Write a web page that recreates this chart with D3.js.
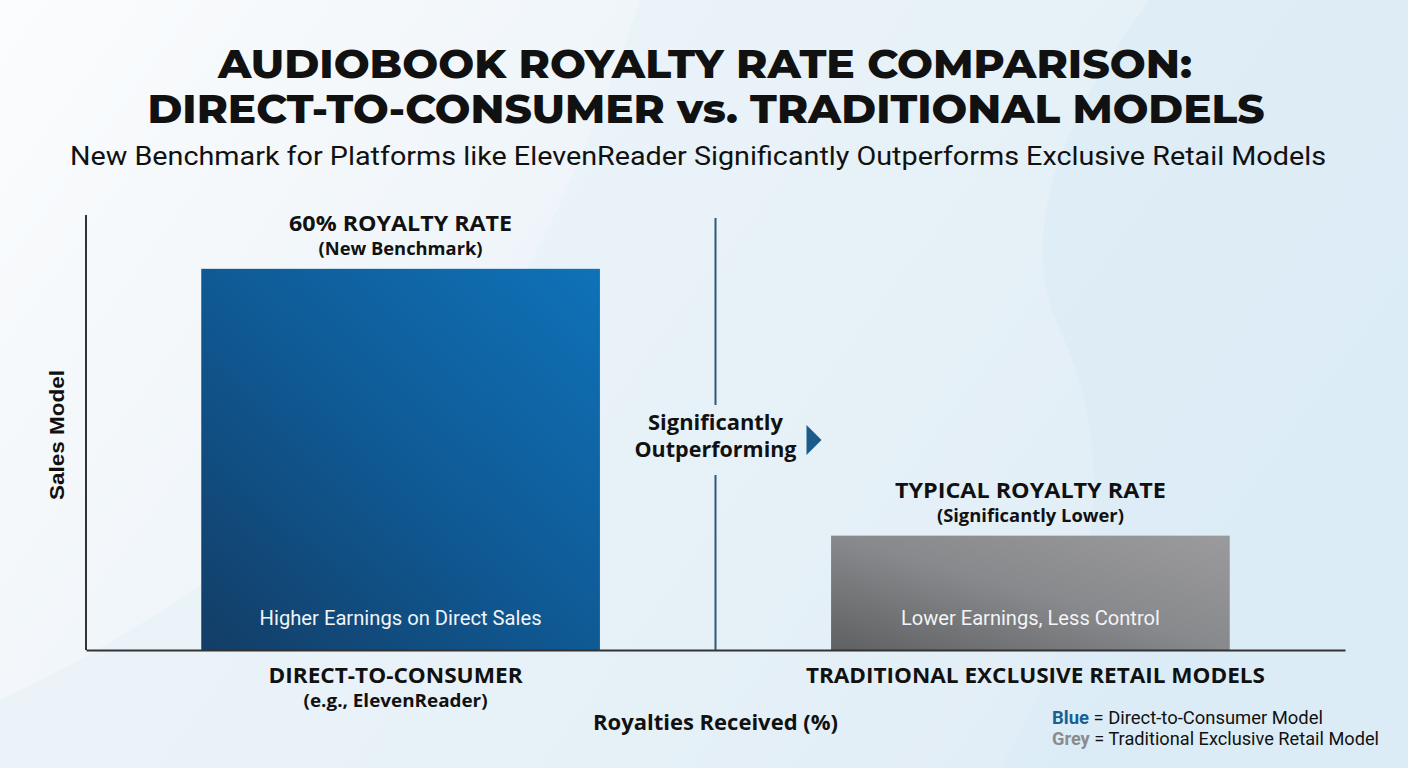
<!DOCTYPE html>
<html>
<head>
<meta charset="utf-8">
<script src="https://cdn.jsdelivr.net/npm/d3@7"></script>
<style>
html,body{margin:0;padding:0;overflow:hidden;background:#fff;}
svg{display:block;}
</style>
</head>
<body>
<svg id="chart" width="1408" height="768"></svg>
<script>
// ---- data ----
const categories = ["DIRECT-TO-CONSUMER", "TRADITIONAL EXCLUSIVE RETAIL MODELS"];
const categorySubs = ["(e.g., ElevenReader)", ""];
const royaltyValues = [60, 18];
const barTopLabels = ["60% ROYALTY RATE", "TYPICAL ROYALTY RATE"];
const barTopSubs = ["(New Benchmark)", "(Significantly Lower)"];
const barInnerLabels = ["Higher Earnings on Direct Sales", "Lower Earnings, Less Control"];
const titleLines = ["AUDIOBOOK ROYALTY RATE COMPARISON:", "DIRECT-TO-CONSUMER vs. TRADITIONAL MODELS"];
const subtitle = "New Benchmark for Platforms like ElevenReader Significantly Outperforms Exclusive Retail Models";
const calloutLines = ["Significantly", "Outperforming"];
const legendKeys = ["Blue", "Grey"];
const legendTexts = [" = Direct-to-Consumer Model", " = Traditional Exclusive Retail Model"];
const yLabel = "Sales Model";
const xLabel = "Royalties Received (%)";

const svg = d3.select("#chart");
const W = 1408, H = 768;
const defs = svg.append("defs");

// background
const bg = defs.append("linearGradient").attr("id","bg").attr("x1","0").attr("y1","0").attr("x2","1").attr("y2","0.4");
bg.append("stop").attr("offset","0").attr("stop-color","#fbfcfd");
bg.append("stop").attr("offset","0.35").attr("stop-color","#f1f6fa");
bg.append("stop").attr("offset","1").attr("stop-color","#dcebf5");
svg.append("rect").attr("width",W).attr("height",H).attr("fill","url(#bg)");
svg.append("path").attr("d","M0,768 L0,700 Q300,560 520,280 Q580,180 640,0 L1408,0 L1408,768 Z").attr("fill","#e6f0f7").attr("opacity",0.55);
svg.append("path").attr("d","M1000,768 Q1150,520 1060,330 Q1000,200 1150,0 L1408,0 L1408,768 Z").attr("fill","#d6e8f4").attr("opacity",0.45);

const blueG = defs.append("linearGradient").attr("id","blueG").attr("x1","0").attr("y1","1").attr("x2","1").attr("y2","0");
blueG.append("stop").attr("offset","0").attr("stop-color","#133d66");
blueG.append("stop").attr("offset","0.5").attr("stop-color","#0f5a95");
blueG.append("stop").attr("offset","1").attr("stop-color","#0f72b8");
const greyG = defs.append("linearGradient").attr("id","greyG").attr("x1","0").attr("y1","1").attr("x2","1").attr("y2","0");
greyG.append("stop").attr("offset","0").attr("stop-color","#5f6062");
greyG.append("stop").attr("offset","0.5").attr("stop-color","#88898c");
greyG.append("stop").attr("offset","1").attr("stop-color","#9b9b9d");
const fills = ["url(#blueG)", "url(#greyG)"];

// scales
const x = d3.scaleBand().domain(categories).range([86, 1345]).paddingInner(0.367).paddingOuter(0.183);
const y = d3.scaleLinear().domain([0, 68]).range([650, 218]);

function fitText(sel, width){
  const len = sel.node().getComputedTextLength();
  if (len > 0) sel.attr("textLength", width).attr("lengthAdjust","spacingAndGlyphs");
  return sel;
}

// title
const titleFont = "Montserrat, 'Open Sans', Inter, sans-serif";
fitText(svg.append("text").attr("x",705).attr("y",78).attr("text-anchor","middle")
  .attr("font-family",titleFont).attr("font-weight",800).attr("font-size",40).attr("fill","#111").text(titleLines[0]), 974);
fitText(svg.append("text").attr("x",706).attr("y",123).attr("text-anchor","middle")
  .attr("font-family",titleFont).attr("font-weight",800).attr("font-size",40).attr("fill","#111").text(titleLines[1]), 1117);
fitText(svg.append("text").attr("x",698).attr("y",165).attr("text-anchor","middle")
  .attr("font-family","Roboto, sans-serif").attr("font-size",26).attr("fill","#111").text(subtitle), 1256);

// bars
svg.selectAll("rect.bar").data(royaltyValues).enter().append("rect").attr("class","bar")
  .attr("x",(d,i)=>x(categories[i])).attr("width",x.bandwidth())
  .attr("y",d=>y(d)).attr("height",d=>y(0)-y(d)).attr("fill",(d,i)=>fills[i]);

// axes lines
const xAxis = d3.axisBottom(x).tickSize(0).tickFormat("");
svg.append("g").attr("transform",`translate(0,${y(0)})`).call(xAxis)
  .call(g=>g.select(".domain").attr("stroke","#333").attr("stroke-width",2));
const yAxis = d3.axisLeft(y).ticks(0).tickSize(0).tickFormat("");
svg.append("g").attr("transform","translate(86,0)").call(yAxis)
  .call(g=>g.select(".domain").attr("stroke","#333").attr("stroke-width",2).attr("d",`M0,${y(y.domain()[1])-3}V${y(0)}`));

// divider
const midX = (x(categories[0]) + x.bandwidth() + x(categories[1]))/2;
svg.append("line").attr("x1",midX).attr("x2",midX).attr("y1",y(68)).attr("y2",405).attr("stroke","#2d5878").attr("stroke-width",2);
svg.append("line").attr("x1",midX).attr("x2",midX).attr("y1",475).attr("y2",y(0)).attr("stroke","#2d5878").attr("stroke-width",2);

const labFont = "'Open Sans', 'Noto Sans', sans-serif";
// callout
const calloutW = [135, 162];
calloutLines.forEach((s,i)=>{
  fitText(svg.append("text").attr("x",midX).attr("y",430+i*27).attr("text-anchor","middle")
    .attr("font-family",labFont).attr("font-weight",700).attr("font-size",21).attr("fill","#111").text(s), calloutW[i]);
});
svg.append("path").attr("d",`M${midX+91},${425} L${midX+106},${440} L${midX+91},${455} Z`).attr("fill","#1a5b8c");

const topW = [223, 271], subW = [164, 187], innerW = [282, 259], catW = [254, 459], catSubW = [184, 0];
royaltyValues.forEach((v,i)=>{
  const cx = x(categories[i]) + x.bandwidth()/2;
  const ty = y(v);
  fitText(svg.append("text").attr("x",cx).attr("y",ty-38).attr("text-anchor","middle")
    .attr("font-family",labFont).attr("font-weight",700).attr("font-size",21).attr("fill","#111").text(barTopLabels[i]), topW[i]);
  fitText(svg.append("text").attr("x",cx).attr("y",ty-14).attr("text-anchor","middle")
    .attr("font-family",labFont).attr("font-weight",700).attr("font-size",17).attr("fill","#111").text(barTopSubs[i]), subW[i]);
  fitText(svg.append("text").attr("x",cx).attr("y",y(0)-25).attr("text-anchor","middle")
    .attr("font-family","Roboto, sans-serif").attr("font-size",20).attr("fill","#f2f4f6").text(barInnerLabels[i]), innerW[i]);
  fitText(svg.append("text").attr("x",cx - (i===0?5:-5)).attr("y",683).attr("text-anchor","middle")
    .attr("font-family",labFont).attr("font-weight",700).attr("font-size",21).attr("fill","#111").text(categories[i]), catW[i]);
  if (categorySubs[i]) fitText(svg.append("text").attr("x",cx-5).attr("y",707).attr("text-anchor","middle")
    .attr("font-family",labFont).attr("font-weight",700).attr("font-size",17).attr("fill","#111").text(categorySubs[i]), catSubW[i]);
});

// axis titles
fitText(svg.append("text").attr("x",midX).attr("y",730).attr("text-anchor","middle")
  .attr("font-family",labFont).attr("font-weight",700).attr("font-size",22).attr("fill","#111").text(xLabel), 245);
fitText(svg.append("text").attr("transform","translate(64,435) rotate(-90)").attr("text-anchor","middle")
  .attr("font-family","'Liberation Sans', Arial, sans-serif").attr("font-weight",700).attr("font-size",21).attr("fill","#111").text(yLabel), 130);

// legend
const legColors = ["#1a5f94", "#8a8b8d"];
const legW = [271, 327];
legendKeys.forEach((k,i)=>{
  const t = svg.append("text").attr("x",1052).attr("y",724+i*21)
    .attr("font-family","Roboto, sans-serif").attr("font-size",18).attr("fill","#111");
  t.append("tspan").attr("font-weight",700).attr("fill",legColors[i]).text(k);
  t.append("tspan").text(legendTexts[i]);
  fitText(t, legW[i]);
});
</script>
</body>
</html>
